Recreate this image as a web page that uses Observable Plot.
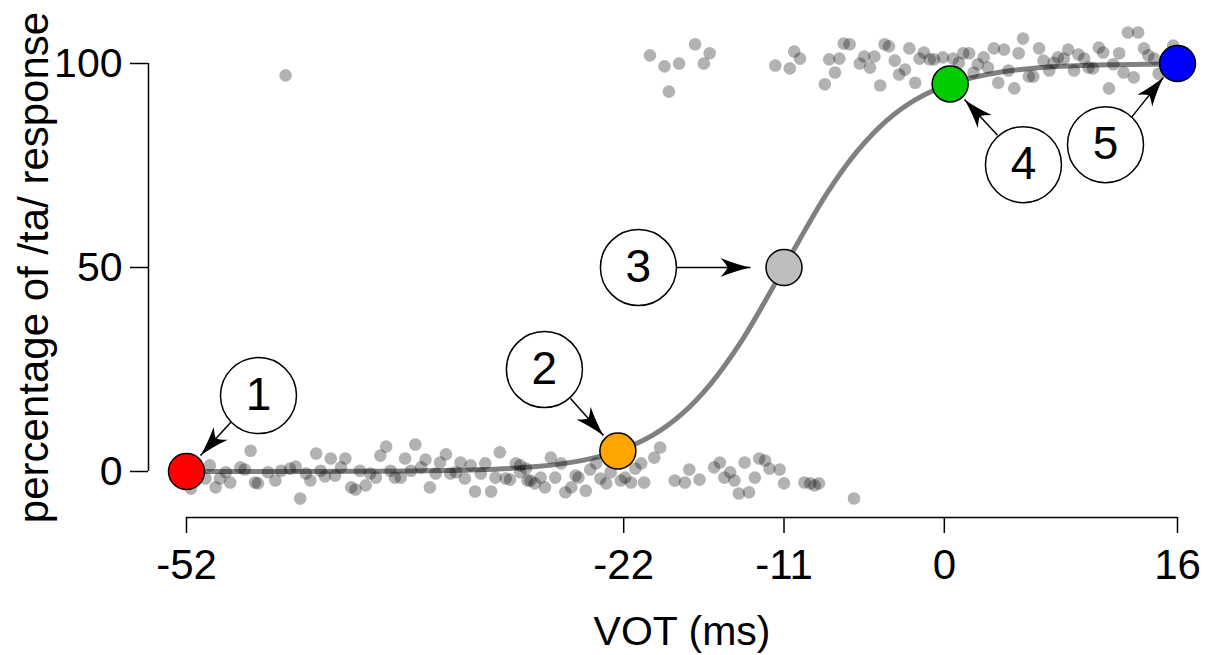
<!DOCTYPE html>
<html><head><meta charset="utf-8">
<script src="https://cdn.jsdelivr.net/npm/d3@7"></script>
<script src="https://cdn.jsdelivr.net/npm/@observablehq/plot@0.6"></script>
<style>body{margin:0;background:#fff;} #chart svg{display:block;}</style>
</head><body><div id="chart"></div>
<script>
// ---- data ----
const xTicks = [-52, -22, -11, 0, 16];
const yTicks = [0, 50, 100];
const xTitle = "VOT (ms)";
const yTitle = "percentage of /ta/ response";

// individual responses near 0 %
const lowVOT = [-51.7,-50.7,-50.4,-50.0,-49.7,-49.3,-49.0,-48.3,-48.0,-47.6,-47.3,-47.1,-46.4,-45.9,-45.5,-44.9,-44.5,-44.2,-43.8,-43.5,-43.1,-42.8,-42.5,-42.1,-41.8,-41.4,-41.1,-40.7,-40.4,-40.1,-39.7,-39.4,-39.0,-38.7,-38.3,-38.0,-37.7,-37.3,-37.0,-36.6,-36.3,-35.9,-35.6,-35.3,-34.9,-34.6,-34.2,-33.9,-33.5,-33.2,-32.9,-32.5,-32.2,-31.8,-31.5,-31.1,-30.8,-30.5,-30.1,-29.8,-29.4,-29.1,-29.1,-28.7,-28.6,-28.4,-28.1,-27.7,-27.4,-27.0,-26.7,-26.3,-26.0,-25.6,-25.3,-25.1,-24.6,-24.3,-23.9,-23.6,-23.2,-22.9,-22.2,-21.9,-21.5,-21.2,-20.8,-20.6,-19.9,-19.5,-18.5,-17.8,-17.5,-16.8,-15.8,-15.4,-15.1,-14.7,-14.4,-14.1,-13.7,-13.4,-13.0,-12.7,-12.3,-12.0,-11.3,-11.0,-9.6,-9.2,-8.9,-8.6,-6.2];
const lowPct = [-4.2,-1.7,1.5,-3.9,-1.7,-0.2,-2.7,1.0,0.5,5.1,-2.7,-2.9,-0.2,-2.2,0.2,0.7,1.2,-6.6,-0.5,-2.2,4.4,0.2,-1.2,3.2,-1.0,1.0,3.2,-3.9,-4.4,0.2,-3.4,-0.5,-1.5,3.9,6.1,0.2,-1.5,-1.5,3.2,0.2,6.6,1.0,2.9,-3.9,-0.5,2.2,4.2,-0.5,-0.2,2.2,-1.7,1.5,-4.9,-0.5,2.0,-4.9,-1.5,4.7,-1.7,-2.0,2.0,-0.2,1.5,0.7,-2.2,-2.2,-2.9,-1.5,-3.9,3.4,-1.5,2.0,-5.1,-3.9,-1.0,-1.5,-4.7,0.5,2.0,-1.7,-2.9,-0.2,-2.2,-1.5,-2.7,0.7,2.0,-2.7,3.4,5.9,-2.2,-2.7,0.5,-2.0,1.0,2.2,-1.5,-0.2,-2.2,-5.4,2.2,-5.1,-1.5,3.2,2.7,0.7,0.5,-2.9,-2.7,-2.9,-3.4,-2.9,-6.6];

// individual responses near 100 %
const highVOT = [-20.2,-19.2,-18.9,-18.2,-17.1,-16.5,-16.1,-11.6,-10.6,-10.3,-9.9,-8.2,-7.9,-7.5,-7.2,-6.9,-6.5,-5.8,-5.5,-5.1,-4.8,-4.4,-4.1,-3.8,-3.4,-3.1,-2.7,-2.4,-2.0,-1.7,-1.4,-1.0,-0.7,-0.1,0.6,1.0,1.3,1.7,2.0,2.3,2.7,3.0,3.4,3.7,4.1,4.4,4.8,5.1,5.4,5.8,6.1,6.5,6.8,7.2,7.5,7.8,8.2,8.5,8.9,9.2,9.6,9.9,10.2,10.6,10.9,11.3,11.6,12.0,12.3,12.6,13.0,13.3,13.7,14.0,14.4,14.7,15.7,-45.2];
const highPct = [102.0,99.3,93.1,100.0,104.7,100.0,102.5,99.5,98.8,102.9,101.2,94.9,101.0,97.8,101.2,104.9,104.7,100.0,101.7,99.0,101.7,94.6,104.7,104.2,100.7,97.3,98.5,103.7,95.3,101.2,102.7,101.0,101.0,101.5,101.2,100.2,102.5,102.5,97.8,99.8,101.5,99.0,103.7,95.3,103.4,98.3,93.9,102.5,106.1,96.8,96.8,103.7,100.7,98.3,100.2,101.5,101.2,103.4,98.3,102.2,101.2,99.0,98.8,103.9,102.7,93.9,99.8,102.5,97.8,107.6,96.6,107.6,103.7,102.0,101.2,97.5,104.4,97.1];

// fitted identification curve
const curveVOT = [-52,-40,-32,-28,-25,-22.4,-20,-18,-16,-14,-12,-11,-10,-8,-6,-4,-2,0.4,2,4,6,8,10,12,16];
const curvePct = [0.0,0.06,0.44,1.2,2.6,5.0,8.9,14.1,21.6,31.5,43.6,50,56.4,68.5,78.4,85.9,91.1,95.0,96.6,98.0,98.8,99.3,99.6,99.7,99.9];

// highlighted stimuli
const keyVOT = [-52, -22.4, -11, 0.4, 16];
const keyPct = [0, 5, 50, 95, 100];
const keyColor = ["#FF0000", "#FFA500", "#BEBEBE", "#00CD00", "#0000FF"];

// numbered callouts
const labelNum = [1, 2, 3, 4, 5];
const labelVOT = [-47.06, -27.44, -20.99, 5.43, 11.06];
const labelPct = [18.6, 25.0, 50, 75.2, 80.1];

// callout arrows (tail -> tip)
const arrowVOT1 = [-48.91, -25.65, -18.38, 3.65, 12.84];
const arrowPct1 = [12.25, 17.9, 50, 82.4, 86.8];
const arrowVOT2 = [-51.04, -23.39, -13.30, 1.38, 15.04];
const arrowPct2 = [3.92, 8.8, 50, 91.2, 96.6];

// ---- build tables ----
const responses = [
  ...lowVOT.map((v, i) => ({vot: v, pct: lowPct[i]})),
  ...highVOT.map((v, i) => ({vot: v, pct: highPct[i]}))
];
const curve = curveVOT.map((v, i) => ({vot: v, pct: curvePct[i]}));
const keys = keyVOT.map((v, i) => ({vot: v, pct: keyPct[i], color: keyColor[i]}));
const labels = labelNum.map((n, i) => ({n: String(n), vot: labelVOT[i], pct: labelPct[i]}));
const arrows = arrowVOT1.map((v, i) => ({x1: v, y1: arrowPct1[i], x2: arrowVOT2[i], y2: arrowPct2[i]}));

const xMin = -54.607, yMin = -11.275;
const font = "'Liberation Sans', Arial, Helvetica, sans-serif";

const svg = Plot.plot({
  width: 1209, height: 655,
  marginLeft: 148, marginRight: 32, marginTop: 63, marginBottom: 138,
  x: {domain: [xMin, xTicks[xTicks.length - 1]]},
  y: {domain: [yMin, yTicks[yTicks.length - 1]]},
  color: {type: "identity"},
  style: {fontFamily: font, fontSize: "40px", background: "white", color: "black", overflow: "visible"},
  marks: [
    Plot.ruleY([{y: yMin}], {y: "y", x1: xTicks[0], x2: xTicks[xTicks.length - 1], stroke: "black", strokeWidth: 1.5}),
    Plot.ruleX([{x: xMin}], {x: "x", y1: yTicks[0], y2: yTicks[yTicks.length - 1], stroke: "black", strokeWidth: 1.5}),
    Plot.axisX({ticks: xTicks, tickFormat: d => String(d), tickSize: 16, tickPadding: 16, fontSize: 42, label: null, strokeWidth: 1.5}),
    Plot.axisY({ticks: yTicks, tickFormat: d => String(d), tickSize: 18, tickPadding: 8, fontSize: 41, label: null, strokeWidth: 1.5}),
    Plot.text([{t: xTitle, vot: (xTicks[0] + xTicks[xTicks.length - 1]) / 2}], {x: "vot", text: "t", frameAnchor: "bottom", dy: 127, fontSize: 41, textAnchor: "middle"}),
    Plot.text([{t: yTitle, pct: (yTicks[0] + yTicks[yTicks.length - 1]) / 2}], {y: "pct", text: "t", frameAnchor: "left", dx: -114, rotate: -90, fontSize: 42, textAnchor: "middle"}),
    Plot.line(curve, {x: "vot", y: "pct", stroke: "#808080", strokeWidth: 5, curve: "catmull-rom"}),
    Plot.dot(responses, {x: "vot", y: "pct", r: 6.3, fill: "black", fillOpacity: 0.3, stroke: "none"}),
    Plot.link(arrows, {x1: "x1", y1: "y1", x2: "x2", y2: "y2", stroke: "black", strokeWidth: 1.5}),
    Plot.dot(keys, {x: "vot", y: "pct", r: 18, fill: "color", stroke: "black", strokeWidth: 1.5}),
    Plot.dot(labels, {x: "vot", y: "pct", r: 38, fill: "white", stroke: "black", strokeWidth: 1.5}),
    Plot.text(labels, {x: "vot", y: "pct", text: "n", fontSize: 46, fill: "black"})
  ]
});

// filled, swept arrowheads on the callout links
const NS = "http://www.w3.org/2000/svg";
const defs = document.createElementNS(NS, "defs");
const marker = document.createElementNS(NS, "marker");
marker.setAttribute("id", "ahead");
marker.setAttribute("viewBox", "-32 -11 33 22");
marker.setAttribute("refX", "0");
marker.setAttribute("refY", "0");
marker.setAttribute("markerWidth", "33");
marker.setAttribute("markerHeight", "22");
marker.setAttribute("markerUnits", "userSpaceOnUse");
marker.setAttribute("orient", "auto");
const head = document.createElementNS(NS, "path");
head.setAttribute("d", "M0,0 Q-14,-3 -30,-9.5 Q-24,-3 -23,0 Q-24,3 -30,9.5 Q-14,3 0,0 Z");
head.setAttribute("fill", "black");
marker.appendChild(head);
defs.appendChild(marker);
svg.insertBefore(defs, svg.firstChild);
svg.querySelectorAll('g[aria-label="link"] path').forEach(p => p.setAttribute("marker-end", "url(#ahead)"));

document.getElementById("chart").appendChild(svg);
</script>
</body></html>
